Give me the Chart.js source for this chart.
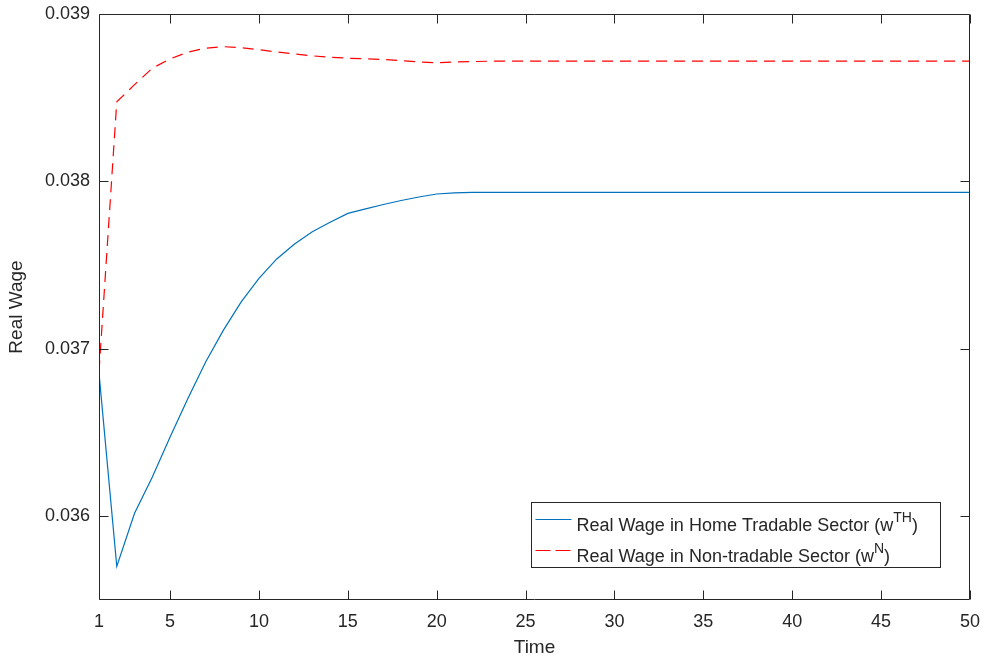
<!DOCTYPE html>
<html lang="en">
<head>
    <meta charset="UTF-8">
    <title>Real Wage</title>
    <script src="https://cdn.jsdelivr.net/npm/chart.js"></script>
    <style>
        body { margin: 0; background: #fff; }
        #wrap { width: 984px; height: 663px; }
    </style>
</head>
<body>
    <div id="wrap"><canvas id="wage-chart" width="984" height="663"></canvas></div>

    <script>
        const time = [1, 2, 3, 4, 5, 6, 7, 8, 9, 10, 11, 12, 13, 14, 15, 16, 17, 18, 19, 20,
                      21, 22, 23, 24, 25, 26, 27, 28, 29, 30, 31, 32, 33, 34, 35, 36, 37, 38, 39, 40,
                      41, 42, 43, 44, 45, 46, 47, 48, 49, 50];

        // Real wage, home tradable sector (w^TH)
        const homeTradable = [0.036855, 0.035701, 0.036018, 0.036235, 0.036474, 0.036704, 0.036922, 0.037112,
                              0.037281, 0.037421, 0.037537, 0.037626, 0.037699, 0.037756, 0.037809, 0.037836,
                              0.037862, 0.037886, 0.037907, 0.037925, 0.037932, 0.037935, 0.037935, 0.037935,
                              0.037935, 0.037935, 0.037935, 0.037935, 0.037935, 0.037935, 0.037935, 0.037935,
                              0.037935, 0.037935, 0.037935, 0.037935, 0.037935, 0.037935, 0.037935, 0.037935,
                              0.037935, 0.037935, 0.037935, 0.037935, 0.037935, 0.037935, 0.037935, 0.037935,
                              0.037935, 0.037935];

        // Real wage, non-tradable sector (w^N)
        const nonTradable = [0.036863, 0.038476, 0.038578, 0.038676, 0.038732, 0.038772, 0.038796, 0.038805,
                             0.038799, 0.038787, 0.038773, 0.038762, 0.038750, 0.038742, 0.038736, 0.038732,
                             0.038728, 0.038721, 0.038714, 0.038708, 0.038714, 0.038716, 0.038718, 0.038718,
                             0.038718, 0.038718, 0.038718, 0.038718, 0.038718, 0.038718, 0.038718, 0.038718,
                             0.038718, 0.038718, 0.038718, 0.038718, 0.038718, 0.038718, 0.038718, 0.038718,
                             0.038718, 0.038718, 0.038718, 0.038718, 0.038718, 0.038718, 0.038718, 0.038718,
                             0.038718, 0.038718];

        const xTicks = [1, 5, 10, 15, 20, 25, 30, 35, 40, 45, 50];
        const yTicks = [0.036, 0.037, 0.038, 0.039];

        const legendItems = [
            { text: 'Real Wage in Home Tradable Sector (w', sup: 'TH', color: '#0072BD', dash: [] },
            { text: 'Real Wage in Non-tradable Sector (w', sup: 'N', color: '#FF0000', dash: [15, 5] }
        ];

        const axisColor = '#262626';
        const fontFamily = '"Liberation Sans", Arial, Helvetica, sans-serif';

        // box, inward ticks on all four sides and the legend, matlab style
        const framePlugin = {
            id: 'frame',
            afterDraw(chart) {
                const { ctx, chartArea: a, scales: { x, y } } = chart;
                const L = Math.round(a.left) + 0.5, R = Math.round(a.right) - 0.5;
                const T = Math.round(a.top) + 0.5, B = Math.round(a.bottom) - 0.5;
                const tl = 9;
                ctx.save();
                ctx.strokeStyle = axisColor;
                ctx.lineWidth = 1;
                ctx.beginPath();
                ctx.rect(L, T, R - L, B - T);
                xTicks.forEach(v => {
                    const px = Math.round(x.getPixelForValue(v)) + 0.5;
                    ctx.moveTo(px, B); ctx.lineTo(px, B - tl);
                    ctx.moveTo(px, T); ctx.lineTo(px, T + tl);
                });
                yTicks.forEach(v => {
                    const py = Math.round(y.getPixelForValue(v)) + 0.5;
                    ctx.moveTo(L, py); ctx.lineTo(L + tl, py);
                    ctx.moveTo(R, py); ctx.lineTo(R - tl, py);
                });
                ctx.stroke();

                // legend
                const bx = R - 438, by = B - 97, bw = 409, bh = 65;
                ctx.fillStyle = '#fff';
                ctx.fillRect(bx, by, bw, bh);
                ctx.strokeRect(bx, by, bw, bh);
                legendItems.forEach((item, i) => {
                    const cy = by + 17 + i * 31;
                    ctx.strokeStyle = item.color;
                    ctx.lineWidth = 1.2;
                    ctx.setLineDash(item.dash);
                    ctx.beginPath();
                    ctx.moveTo(bx + 4, cy);
                    ctx.lineTo(bx + 40, cy);
                    ctx.stroke();
                    ctx.setLineDash([]);

                    ctx.fillStyle = axisColor;
                    ctx.textBaseline = 'alphabetic';
                    ctx.textAlign = 'left';
                    const base = cy + 11;
                    let tx = bx + 45;
                    ctx.font = '18px ' + fontFamily;
                    ctx.fillText(item.text, tx, base);
                    tx += ctx.measureText(item.text).width;
                    ctx.font = '14px ' + fontFamily;
                    ctx.fillText(item.sup, tx, base - 9);
                    tx += ctx.measureText(item.sup).width;
                    ctx.font = '18px ' + fontFamily;
                    ctx.fillText(')', tx, base);
                });
                ctx.restore();
            }
        };

        // no extra room for label overflow, layout padding decides the plot box
        const noOverflow = s => {
            s.paddingLeft = 0; s.paddingRight = 0; s.paddingTop = 0; s.paddingBottom = 0;
        };

        const ctx = document.getElementById('wage-chart').getContext('2d');
        const chart = new Chart(ctx, {
            type: 'line',
            data: {
                datasets: [{
                    label: 'Real Wage in Home Tradable Sector',
                    data: time.map((t, i) => ({ x: t, y: homeTradable[i] })),
                    borderColor: '#0072BD',
                    borderWidth: 1.2,
                    pointRadius: 0,
                    fill: false,
                    tension: 0
                }, {
                    label: 'Real Wage in Non-tradable Sector',
                    data: time.map((t, i) => ({ x: t, y: nonTradable[i] })),
                    borderColor: '#FF0000',
                    borderWidth: 1.2,
                    borderDash: [11, 7],
                    pointRadius: 0,
                    fill: false,
                    tension: 0
                }]
            },
            options: {
                responsive: false,
                animation: false,
                devicePixelRatio: 1,
                layout: { padding: { top: 14, right: 14, left: 0, bottom: 0 } },
                plugins: {
                    legend: { display: false },
                    tooltip: { enabled: false }
                },
                scales: {
                    x: {
                        type: 'linear',
                        min: 1,
                        max: 50,
                        grid: { display: false, drawTicks: false },
                        border: { display: false },
                        afterBuildTicks: s => { s.ticks = xTicks.map(v => ({ value: v })); },
                        afterFit: s => { s.height = 63; noOverflow(s); },
                        ticks: {
                            color: axisColor,
                            font: { family: fontFamily, size: 18 },
                            padding: 11,
                            maxRotation: 0,
                            autoSkip: false
                        },
                        title: {
                            display: true,
                            text: 'Time',
                            color: axisColor,
                            font: { family: fontFamily, size: 19 },
                            padding: { top: 0, bottom: 4 }
                        }
                    },
                    y: {
                        min: 0.0355,
                        max: 0.039,
                        grid: { display: false, drawTicks: false },
                        border: { display: false },
                        afterBuildTicks: s => { s.ticks = yTicks.map(v => ({ value: v })); },
                        afterFit: s => { s.width = 99; noOverflow(s); },
                        ticks: {
                            color: axisColor,
                            font: { family: fontFamily, size: 18 },
                            padding: 9,
                            callback: v => v.toFixed(3)
                        },
                        title: {
                            display: true,
                            text: 'Real Wage',
                            color: axisColor,
                            font: { family: fontFamily, size: 19 },
                            padding: { top: 5, bottom: 0 }
                        }
                    }
                }
            },
            plugins: [framePlugin]
        });
    </script>
</body>
</html>
